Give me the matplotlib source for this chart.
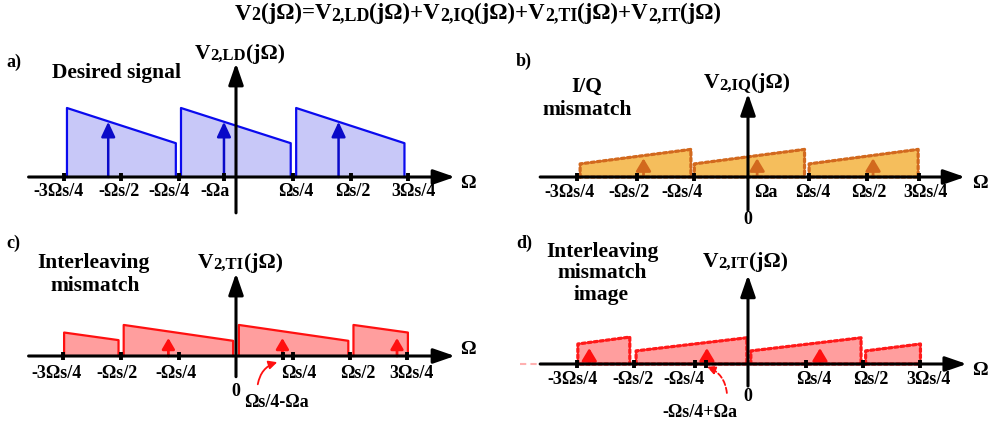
#=======================================================================
# Spectra of the second-stage signal: desired tone plus I/Q and
# interleaving mismatch terms, drawn as four small sketch panels.
#=======================================================================
import matplotlib.pyplot as plt

# PROGRAM CONSTANTS ----------------------------------------------------
W, H = 1004, 425                 # output size in pixels
FONT = 'Liberation Serif'
plt.rcParams['font.family'] = [FONT, 'DejaVu Serif']
plt.rcParams['font.weight'] = 'bold'

# x values are in units of Ωs/4, y values relative to the desired band

# a) desired signal
LD_BANDS = [(-2.95, -1.05), (-0.96, 0.955), (1.05, 2.94)]
LD_LEVELS = [(1.0, 0.49), (1.0, 0.49), (1.0, 0.49)]
LD_TONES = [-2.23, -0.21, 1.79]
LD_TONE_LEVELS = [0.80, 0.80, 0.80]
LD_TICKS = [-3.0, -2.0, -1.0, -0.21, 1.0, 2.0, 3.0]
LD_LABELS = ['-3Ωs/4', '-Ωs/2', '-Ωs/4', '-Ωa', 'Ωs/4', 'Ωs/2', '3Ωs/4']
LD_LABEL_X = [-3.09, -2.05, -1.17, -0.36, 1.04, 2.03, 3.09]

# b) I/Q mismatch
IQ_BANDS = [(-2.94, -1.0), (-0.94, 0.99), (1.07, 2.98)]
IQ_LEVELS = [(0.19, 0.40), (0.19, 0.40), (0.19, 0.40)]
IQ_TONES = [-1.83, 0.16, 2.19]
IQ_TONE_LEVELS = [0.27, 0.27, 0.27]
IQ_TICKS = [-3.0, -1.94, -0.95, 1.06, 2.08, 3.0]
IQ_LABELS = ['-3Ωs/4', '-Ωs/2', '-Ωs/4', 'Ωa', 'Ωs/4', 'Ωs/2', '3Ωs/4']
IQ_LABEL_X = [-3.12, -2.08, -1.15, 0.31, 1.13, 2.12, 3.10]

# c) interleaving mismatch
TI_BANDS = [(-3.0, -2.05), (-1.96, -0.05), (0.05, 1.96), (2.05, 3.0)]
TI_LEVELS = [(0.34, 0.23), (0.45, 0.22), (0.45, 0.22), (0.45, 0.34)]
TI_TONES = [-1.18, 0.81, 2.81]
TI_TONE_LEVELS = [0.26, 0.26, 0.26]
TI_TICKS = [-3.02, -2.01, -0.99, 0.815, 1.0, 1.99, 2.99]
TI_LABELS = ['-3Ωs/4', '-Ωs/2', '-Ωs/4', 'Ωs/4', 'Ωs/2', '3Ωs/4']
TI_LABEL_X = [-3.13, -2.07, -1.05, 1.10, 2.12, 3.07]

# d) interleaving mismatch image
IT_BANDS = [(-2.98, -2.07), (-1.96, -0.02), (0.05, 1.98), (2.06, 3.02)]
IT_LEVELS = [(0.29, 0.39), (0.19, 0.38), (0.19, 0.38), (0.19, 0.29)]
IT_TONES = [-2.78, -0.72, 1.26]
IT_TONE_LEVELS = [0.23, 0.23, 0.23]
IT_TICKS = [-3.0, -2.0, -0.93, -0.74, 1.02, 2.02, 3.02]
IT_LABELS = ['-3Ωs/4', '-Ωs/2', '-Ωs/4', 'Ωs/4', 'Ωs/2', '3Ωs/4']
IT_LABEL_X = [-3.07, -2.02, -1.12, 1.16, 2.15, 3.16]

BIG, SMALL = 16.5, 13.0          # title text / its subscripts
TITLE_PARTS = [('V', BIG), ('2', SMALL), ('(jΩ)=V', BIG), ('2,LD', SMALL),
               ('(jΩ)+V', BIG), ('2,IQ', SMALL), ('(jΩ)+V', BIG),
               ('2,TI', SMALL), ('(jΩ)+V', BIG), ('2,IT', SMALL),
               ('(jΩ)', BIG)]

TICK_FS = 13
WORD_FS = 15.5


# FUNCTION: make_panel -------------------------------------------------
def make_panel(fig, origin, ux, uy, xlim=(-4.3, 4.4), ylim=(-0.9, 1.9)):
    """ Axes whose data origin sits at the pixel 'origin' (from top-left)
        with ux / uy pixels per data unit.
    """
    ox, oy = origin
    left = ox + xlim[0] * ux
    low = oy - ylim[0] * uy
    ax = fig.add_axes([left / W, 1 - low / H,
                       (xlim[1] - xlim[0]) * ux / W,
                       (ylim[1] - ylim[0]) * uy / H])
    ax.set_xlim(xlim)
    ax.set_ylim(ylim)
    ax.axis('off')
    return ax


# FUNCTION: arrow ------------------------------------------------------
def arrow(ax, start, tip, color='k', lw=2.2, hl=1.3, hw=0.45, z=5, ls='-'):
    ax.annotate('', xy=tip, xytext=start, zorder=z,
                arrowprops=dict(arrowstyle='-|>,head_length=%g,head_width=%g'
                                % (hl, hw), lw=lw, color=color,
                                mutation_scale=10, shrinkA=0, shrinkB=0,
                                linestyle=ls))


# FUNCTION: draw_frame -------------------------------------------------
def draw_frame(ax, xspan, yspan, ticks):
    arrow(ax, (xspan[0], 0), (xspan[1], 0))
    arrow(ax, (0, yspan[0]), (0, yspan[1]))
    ax.plot(ticks, [0] * len(ticks), '|', ms=6, mew=2.8, color='k',
            zorder=6, clip_on=False)


# FUNCTION: draw_bands -------------------------------------------------
def draw_bands(ax, bands, levels, fill, edge, dashed=False):
    for (x0, x1), (h0, h1) in zip(bands, levels):
        ax.fill_between([x0, x1], [h0, h1], 0, color=fill, lw=0, zorder=1)
        if dashed:
            ax.plot([x0, x0, x1, x1, x0], [0, h0, h1, 0, 0], color=edge,
                    lw=2.3, ls=(0, (1.0, 0.9)), dash_capstyle='round',
                    zorder=2)
        else:
            ax.plot([x0, x0, x1, x1], [0, h0, h1, 0], color=edge, lw=1.6,
                    zorder=2)


# FUNCTION: draw_tones -------------------------------------------------
def draw_tones(ax, tones, levels, color, hl=0.9, hw=0.42, lw=1.8):
    for x, h in zip(tones, levels):
        arrow(ax, (x, 0), (x, h), color=color, lw=lw, hl=hl, hw=hw, z=3)


# FUNCTION: tick_labels ------------------------------------------------
def tick_labels(ax, xs, labels, dy):
    for x, s in zip(xs, labels):
        ax.text(x, dy, s, ha='center', va='center', fontsize=TICK_FS)


# FUNCTION: rich_text --------------------------------------------------
def rich_text(ax, x, y, parts):
    """ Writes a run of text pieces of mixed size, left to right, with
        its left end at pixel (x, y) measured from the top-left corner.
    """
    s, size = parts[0]
    prev = ax.annotate(s, xy=(x, H - y), xycoords='figure pixels',
                       ha='left', va='center', fontsize=size,
                       annotation_clip=False)
    for s, size in parts[1:]:
        prev = ax.annotate(s, xy=(1, 0), xycoords=prev, ha='left',
                           va='bottom', fontsize=size,
                           annotation_clip=False)
    return prev


def ylabel_parts(sub):
    return [('V', 15.5), ('2,' + sub, 12.0), ('(jΩ)', 15.5)]


# FUNCTION: word -------------------------------------------------------
def word(fig, x, y, s, size=WORD_FS, ha='center'):
    fig.text(x / W, 1 - y / H, s, ha=ha, va='center', fontsize=size)


#=======================================================================
# PROGRAM SCRIPT -------------------------------------------------------
fig = plt.figure(figsize=(W / 100, H / 100), dpi=100)
fig.patch.set_facecolor('white')

# a) ---------------------------------------------------------------
ax = make_panel(fig, (236, 177), 57.3, 69)
draw_bands(ax, LD_BANDS, LD_LEVELS, '#C8C8F8', '#0A0AEE')
draw_tones(ax, LD_TONES, LD_TONE_LEVELS, '#0A0AC8')
draw_frame(ax, (-3.62, 3.82), (-0.52, 1.65), LD_TICKS)
tick_labels(ax, LD_LABEL_X, LD_LABELS, -0.21)
ax.text(4.05, -0.1, 'Ω', ha='center', va='center', fontsize=14)
rich_text(ax, 195, 54, ylabel_parts('LD'))
word(fig, 6, 62, 'a)', 13, ha='left')
word(fig, 117, 73, 'Desired signal')

# b) ---------------------------------------------------------------
ax = make_panel(fig, (748, 177), 57.1, 69)
draw_bands(ax, IQ_BANDS, IQ_LEVELS, '#F5BE5C', '#D2691E', dashed=True)
draw_tones(ax, IQ_TONES, IQ_TONE_LEVELS, '#D2691E', hl=0.75, hw=0.45,
           lw=2.0)
draw_frame(ax, (-3.64, 3.80), (-0.48, 1.21), IQ_TICKS)
tick_labels(ax, IQ_LABEL_X, IQ_LABELS, -0.23)
ax.text(0, -0.62, '0', ha='center', va='center', fontsize=TICK_FS)
ax.text(4.06, -0.1, 'Ω', ha='center', va='center', fontsize=14)
rich_text(ax, 704, 83, ylabel_parts('IQ'))
word(fig, 516, 61, 'b)', 13, ha='left')
word(fig, 587, 87, 'I/Q')
word(fig, 587, 110, 'mismatch')

# c) ---------------------------------------------------------------
ax = make_panel(fig, (236, 356), 57.3, 69)
draw_bands(ax, TI_BANDS, TI_LEVELS, '#FF9E9E', '#FF1010')
draw_tones(ax, TI_TONES, TI_TONE_LEVELS, '#FF1010', hl=0.65, hw=0.38,
           lw=2.0)
draw_frame(ax, (-3.62, 3.82), (-0.30, 1.20), TI_TICKS)
tick_labels(ax, TI_LABEL_X, TI_LABELS, -0.25)
ax.text(0, -0.52, '0', ha='center', va='center', fontsize=TICK_FS)
ax.text(0.71, -0.68, 'Ωs/4-Ωa', ha='center', va='center', fontsize=TICK_FS)
ax.annotate('', xy=(0.72, -0.09), xytext=(0.38, -0.41),
            arrowprops=dict(arrowstyle='-|>,head_length=0.5,head_width=0.25',
                            color='#FF1010', lw=1.3, mutation_scale=10,
                            shrinkA=0, shrinkB=0,
                            connectionstyle='arc3,rad=-0.3'))
ax.text(4.05, 0.1, 'Ω', ha='center', va='center', fontsize=14)
rich_text(ax, 198, 263, ylabel_parts('TI'))
word(fig, 6, 243, 'c)', 13, ha='left')
word(fig, 93, 263, 'Interleaving')
word(fig, 95, 286, 'mismatch')

# d) ---------------------------------------------------------------
ax = make_panel(fig, (748, 364), 57.1, 69)
ax.plot([-4.0, 3.0], [0, 0], color='#FFB0B0', lw=1.5, ls=(0, (3, 2)),
        zorder=0)
draw_bands(ax, IT_BANDS, IT_LEVELS, '#FF9E9E', '#FF1A1A', dashed=True)
draw_tones(ax, IT_TONES, IT_TONE_LEVELS, '#FF1010', hl=0.75, hw=0.45,
           lw=2.0)
draw_frame(ax, (-3.64, 3.83), (-0.32, 1.29), IT_TICKS)
tick_labels(ax, IT_LABEL_X, IT_LABELS, -0.22)
ax.text(0, -0.47, '0', ha='center', va='center', fontsize=TICK_FS)
ax.text(-0.84, -0.70, '-Ωs/4+Ωa', ha='center', va='center',
        fontsize=TICK_FS)
ax.annotate('', xy=(-0.72, -0.04), xytext=(-0.37, -0.42),
            arrowprops=dict(arrowstyle='-|>,head_length=0.5,head_width=0.25',
                            color='#FF1010', lw=1.3, mutation_scale=10,
                            shrinkA=0, shrinkB=0, linestyle=(0, (3, 1.5)),
                            connectionstyle='arc3,rad=0.3'))
ax.text(4.06, -0.09, 'Ω', ha='center', va='center', fontsize=14)
rich_text(ax, 703, 262, ylabel_parts('IT'))
word(fig, 516, 243, 'd)', 13, ha='left')
word(fig, 602, 252, 'Interleaving')
word(fig, 602, 273, 'mismatch')
word(fig, 601, 295, 'image')

# title -------------------------------------------------------------
rich_text(ax, 235, 14, TITLE_PARTS)

fig.savefig('out.png', dpi=100, facecolor='white')

#=======================================================================
# END FILE
